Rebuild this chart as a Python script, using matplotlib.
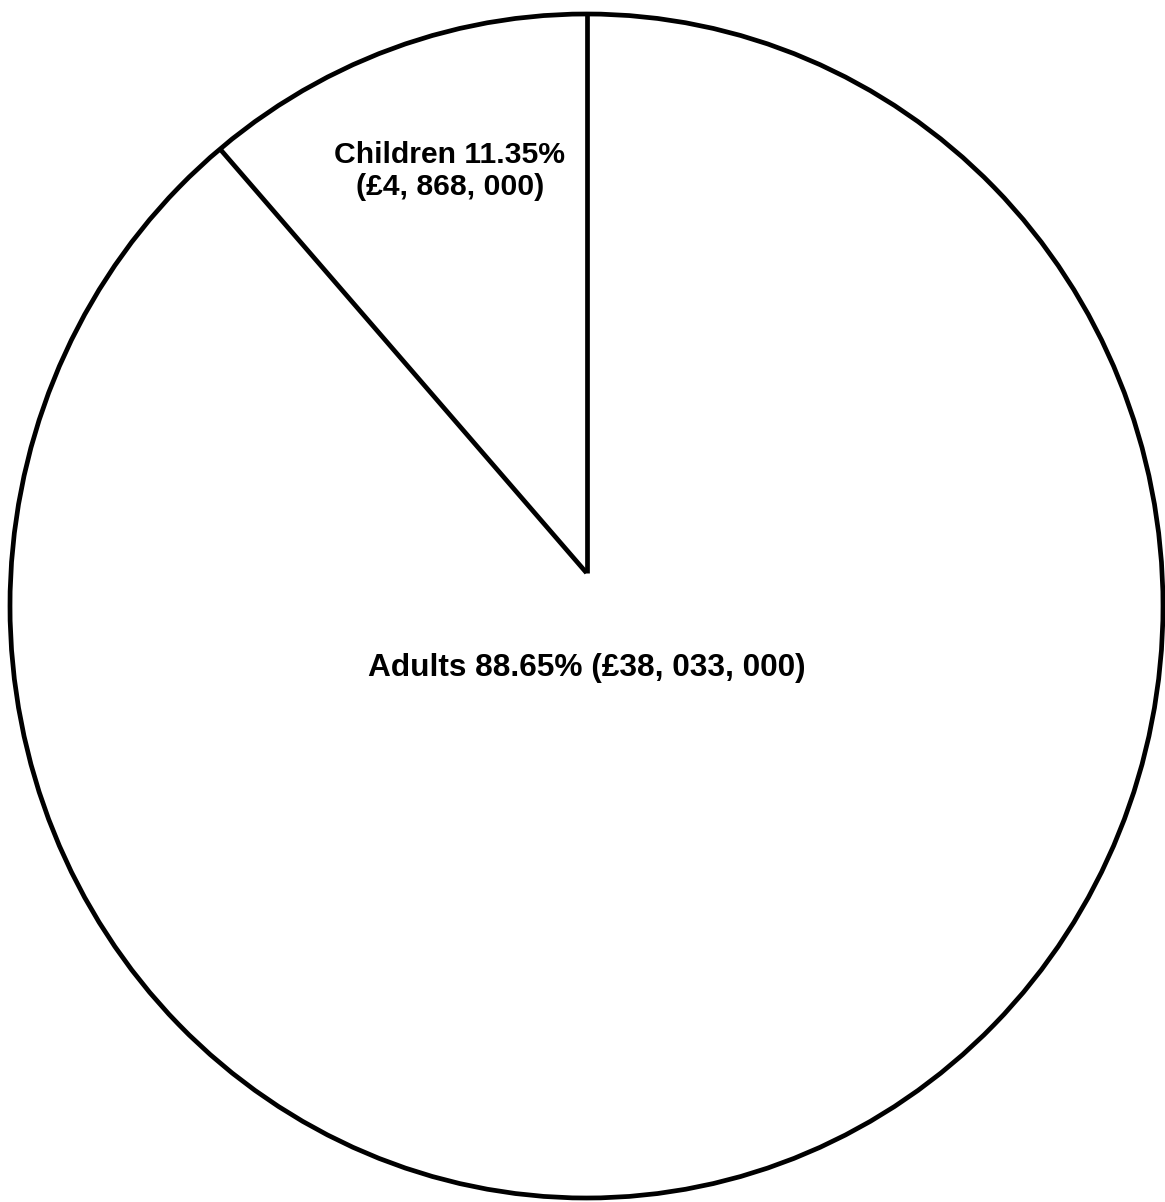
import matplotlib.pyplot as plt
import numpy as np

labels = ["Children", "Adults"]
values = [4868000, 38033000]
percents = ["11.35%", "88.65%"]
amounts = ["(£4, 868, 000)", "(£38, 033, 000)"]

plt.rcParams['font.family'] = ['Liberation Sans', 'DejaVu Sans']

fig = plt.figure(figsize=(11.65, 12.02), dpi=100)
ax = fig.add_axes([0, 0, 1, 1])

wedges, _ = ax.pie(values, startangle=90, counterclock=True,
                   colors=["white", "white"],
                   wedgeprops=dict(linewidth=0))

# outline and slice borders (borders meet slightly above the centre, as in the original)
ax.add_patch(plt.Circle((0, 0), 1, fill=False, lw=3.4, color="black"))
sx, sy = 576.5, 592.0
apex = np.array([0, 0.056])
for w in wedges[:1]:
    for t in (w.theta1, w.theta2):
        a = np.deg2rad(t)
        d = np.array([np.cos(a) / sx, np.sin(a) / sy])
        # ray from apex to the outline
        A = d @ d
        B = 2 * apex @ d
        C = apex @ apex - 1
        s = (-B + np.sqrt(B * B - 4 * A * C)) / (2 * A)
        end = apex + s * d
        ax.plot([apex[0], end[0]], [apex[1], end[1]], color="black", lw=3.4,
                solid_capstyle="butt")

ax.text(-0.237, 0.735, f"{labels[0]} {percents[0]}\n{amounts[0]}",
        ha="center", va="center", fontsize=21.7, fontweight="bold", linespacing=1.17)
ax.text(0, -0.105, f"{labels[1]} {percents[1]} {amounts[1]}",
        ha="center", va="center", fontsize=22.8, fontweight="bold")

ax.set_aspect("auto")
ax.set_xlim(-586.5 / sx, (1165 - 586.5) / sx)
ax.set_ylim(-596 / sy, 606 / sy)
ax.axis("off")

fig.savefig("out.png", dpi=100)
